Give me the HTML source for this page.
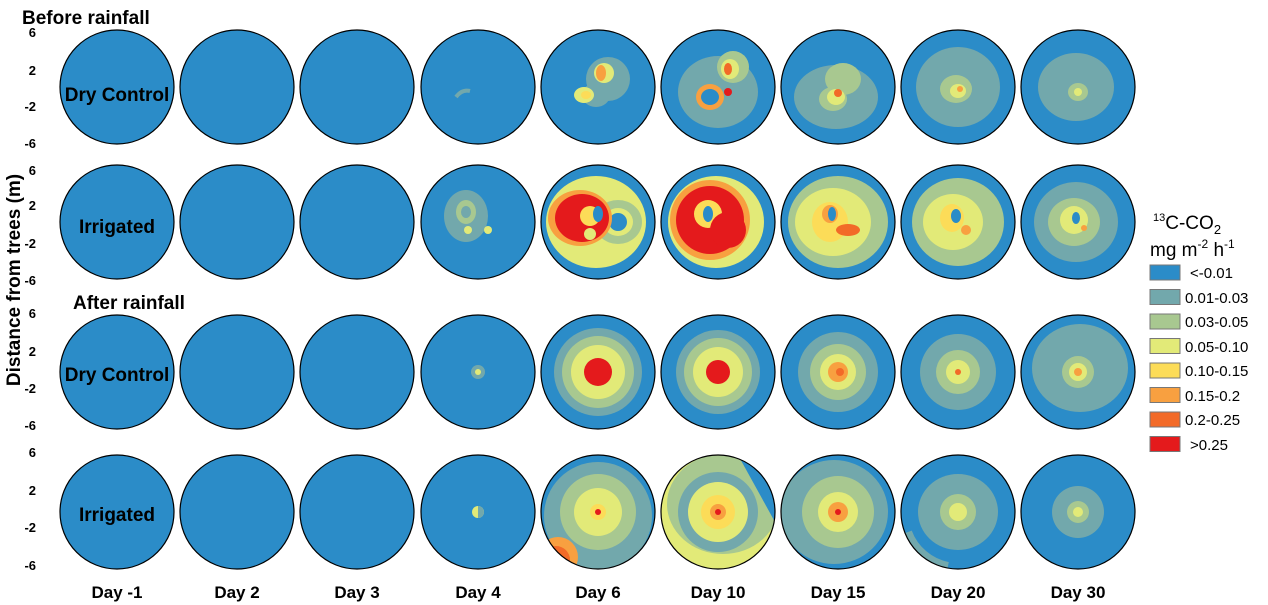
<!DOCTYPE html>
<html><head><meta charset="utf-8"><style>
body{margin:0;background:#fff;width:1268px;height:605px;overflow:hidden}
svg{display:block;font-family:"Liberation Sans",Arial,sans-serif}
</style></head><body>
<svg width="1268" height="605" viewBox="0 0 1268 605" xmlns="http://www.w3.org/2000/svg">
<defs>
<clipPath id="c"><circle cx="0" cy="0" r="57"/></clipPath>
</defs>
<rect width="1268" height="605" fill="#fff"/>
<g font-weight="bold" fill="#000">
<text x="22" y="24" font-size="19">Before rainfall</text>
<text x="73" y="309" font-size="19">After rainfall</text>
<text x="20" y="280" font-size="19" transform="rotate(-90 20 280)" text-anchor="middle">Distance from trees (m)</text>
</g>
<g font-size="13" font-weight="bold" text-anchor="end">
<text x="36" y="37">6</text><text x="36" y="75">2</text><text x="36" y="111">-2</text><text x="36" y="148">-6</text>
<text x="36" y="175">6</text><text x="36" y="210">2</text><text x="36" y="248">-2</text><text x="36" y="285">-6</text>
<text x="36" y="318">6</text><text x="36" y="356">2</text><text x="36" y="393">-2</text><text x="36" y="430">-6</text>
<text x="36" y="457">6</text><text x="36" y="495">2</text><text x="36" y="532">-2</text><text x="36" y="570">-6</text>
</g>
<g id="circles">
<!-- Row 1 -->
<g transform="translate(117,87)"><circle r="57" fill="#2b8cc8" stroke="#000" stroke-width="1.2"/></g>
<g transform="translate(237,87)"><circle r="57" fill="#2b8cc8" stroke="#000" stroke-width="1.2"/></g>
<g transform="translate(357,87)"><circle r="57" fill="#2b8cc8" stroke="#000" stroke-width="1.2"/></g>
<g transform="translate(478,87)"><circle r="57" fill="#2b8cc8"/><path d="M-22 10 q6-8 14-6" stroke="#72a8ac" stroke-width="4" fill="none"/><circle r="57" fill="none" stroke="#000" stroke-width="1.2"/></g>
<g transform="translate(598,87)"><g clip-path="url(#c)"><circle r="57" fill="#2b8cc8"/>
<ellipse cx="10" cy="-8" rx="22" ry="22" fill="#72a8ac"/><ellipse cx="-2" cy="8" rx="14" ry="12" fill="#72a8ac"/>
<ellipse cx="6" cy="-14" rx="10" ry="10" fill="#e2ea78"/><ellipse cx="3" cy="-14" rx="5" ry="8" fill="#f8a040"/>
<ellipse cx="-14" cy="8" rx="10" ry="8" fill="#e2ea78"/><ellipse cx="-12" cy="8" rx="5" ry="4" fill="#fcdc58"/></g>
<circle r="57" fill="none" stroke="#000" stroke-width="1.2"/></g>
<g transform="translate(718,87)"><g clip-path="url(#c)"><circle r="57" fill="#2b8cc8"/>
<ellipse cx="0" cy="5" rx="40" ry="36" fill="#72a8ac"/><ellipse cx="15" cy="-20" rx="16" ry="16" fill="#a8c890"/>
<ellipse cx="-8" cy="10" rx="14" ry="13" fill="#f8a040"/><ellipse cx="-8" cy="10" rx="9" ry="8" fill="#2b8cc8"/>
<ellipse cx="12" cy="-18" rx="9" ry="10" fill="#e2ea78"/><ellipse cx="10" cy="-18" rx="4" ry="6" fill="#f26a28"/>
<circle cx="10" cy="5" r="4" fill="#e41a1c"/></g>
<circle r="57" fill="none" stroke="#000" stroke-width="1.2"/></g>
<g transform="translate(838,87)"><g clip-path="url(#c)"><circle r="57" fill="#2b8cc8"/>
<ellipse cx="-2" cy="10" rx="42" ry="32" fill="#72a8ac"/><ellipse cx="5" cy="-8" rx="18" ry="16" fill="#a8c890"/>
<ellipse cx="-5" cy="12" rx="14" ry="12" fill="#a8c890"/><ellipse cx="-2" cy="10" rx="9" ry="8" fill="#e2ea78"/><circle cx="0" cy="6" r="4" fill="#f26a28"/></g>
<circle r="57" fill="none" stroke="#000" stroke-width="1.2"/></g>
<g transform="translate(958,87)"><g clip-path="url(#c)"><circle r="57" fill="#2b8cc8"/>
<ellipse cx="0" cy="0" rx="42" ry="40" fill="#72a8ac"/><ellipse cx="-2" cy="2" rx="16" ry="14" fill="#a8c890"/><ellipse cx="0" cy="4" rx="8" ry="7" fill="#e2ea78"/><circle cx="2" cy="2" r="3" fill="#f8a040"/></g>
<circle r="57" fill="none" stroke="#000" stroke-width="1.2"/></g>
<g transform="translate(1078,87)"><g clip-path="url(#c)"><circle r="57" fill="#2b8cc8"/>
<ellipse cx="-2" cy="0" rx="38" ry="34" fill="#72a8ac"/><ellipse cx="0" cy="5" rx="10" ry="9" fill="#a8c890"/><circle cx="0" cy="5" r="4" fill="#e2ea78"/></g>
<circle r="57" fill="none" stroke="#000" stroke-width="1.2"/></g>
<!-- Row 2 -->
<g transform="translate(117,222)"><circle r="57" fill="#2b8cc8" stroke="#000" stroke-width="1.2"/></g>
<g transform="translate(237,222)"><circle r="57" fill="#2b8cc8" stroke="#000" stroke-width="1.2"/></g>
<g transform="translate(357,222)"><circle r="57" fill="#2b8cc8" stroke="#000" stroke-width="1.2"/></g>
<g transform="translate(478,222)"><g clip-path="url(#c)"><circle r="57" fill="#2b8cc8"/>
<ellipse cx="-12" cy="-6" rx="22" ry="26" fill="#72a8ac"/><ellipse cx="-12" cy="-10" rx="10" ry="12" fill="#a8c890"/><ellipse cx="-12" cy="-10" rx="5" ry="6" fill="#72a8ac"/>
<circle cx="-10" cy="8" r="4" fill="#e2ea78"/><circle cx="10" cy="8" r="4" fill="#e2ea78"/></g>
<circle r="57" fill="none" stroke="#000" stroke-width="1.2"/></g>
<g transform="translate(598,222)"><g clip-path="url(#c)"><circle r="57" fill="#2b8cc8"/>
<ellipse cx="-2" cy="0" rx="50" ry="46" fill="#e2ea78"/><ellipse cx="20" cy="0" rx="24" ry="22" fill="#a8c890"/><ellipse cx="20" cy="0" rx="15" ry="14" fill="#e2ea78"/><ellipse cx="20" cy="0" rx="9" ry="9" fill="#2b8cc8"/>
<ellipse cx="-18" cy="-4" rx="32" ry="28" fill="#f8a040"/><ellipse cx="-16" cy="-4" rx="27" ry="24" fill="#e41a1c"/>
<ellipse cx="-8" cy="-6" rx="10" ry="10" fill="#fcdc58"/><ellipse cx="0" cy="-8" rx="5" ry="8" fill="#2b8cc8"/><ellipse cx="-8" cy="12" rx="6" ry="6" fill="#e2ea78"/></g>
<circle r="57" fill="none" stroke="#000" stroke-width="1.2"/></g>
<g transform="translate(718,222)"><g clip-path="url(#c)"><circle r="57" fill="#2b8cc8"/>
<ellipse cx="-2" cy="0" rx="48" ry="46" fill="#e2ea78"/><ellipse cx="-8" cy="-2" rx="40" ry="40" fill="#f8a040"/><ellipse cx="-8" cy="-2" rx="34" ry="34" fill="#e41a1c"/>
<ellipse cx="-10" cy="-8" rx="14" ry="14" fill="#fcdc58"/><ellipse cx="-10" cy="-8" rx="5" ry="8" fill="#2b8cc8"/><ellipse cx="10" cy="8" rx="18" ry="18" fill="#e41a1c"/></g>
<circle r="57" fill="none" stroke="#000" stroke-width="1.2"/></g>
<g transform="translate(838,222)"><g clip-path="url(#c)"><circle r="57" fill="#2b8cc8"/>
<ellipse cx="0" cy="0" rx="50" ry="46" fill="#a8c890"/><ellipse cx="-5" cy="0" rx="38" ry="34" fill="#e2ea78"/><ellipse cx="-8" cy="0" rx="18" ry="20" fill="#fcdc58"/>
<ellipse cx="-8" cy="-8" rx="8" ry="9" fill="#f8a040"/><ellipse cx="-6" cy="-8" rx="4" ry="7" fill="#2b8cc8"/><ellipse cx="10" cy="8" rx="12" ry="6" fill="#f26a28"/></g>
<circle r="57" fill="none" stroke="#000" stroke-width="1.2"/></g>
<g transform="translate(958,222)"><g clip-path="url(#c)"><circle r="57" fill="#2b8cc8"/>
<ellipse cx="0" cy="0" rx="46" ry="44" fill="#a8c890"/><ellipse cx="-5" cy="0" rx="30" ry="28" fill="#e2ea78"/><ellipse cx="-6" cy="-4" rx="12" ry="14" fill="#fcdc58"/><ellipse cx="-2" cy="-6" rx="5" ry="7" fill="#2b8cc8"/><circle cx="8" cy="8" r="5" fill="#f8a040"/></g>
<circle r="57" fill="none" stroke="#000" stroke-width="1.2"/></g>
<g transform="translate(1078,222)"><g clip-path="url(#c)"><circle r="57" fill="#2b8cc8"/>
<ellipse cx="-2" cy="0" rx="42" ry="40" fill="#72a8ac"/><ellipse cx="-4" cy="0" rx="26" ry="24" fill="#a8c890"/><ellipse cx="-4" cy="-2" rx="14" ry="14" fill="#e2ea78"/><ellipse cx="-2" cy="-4" rx="4" ry="6" fill="#2b8cc8"/><circle cx="6" cy="6" r="3" fill="#f8a040"/></g>
<circle r="57" fill="none" stroke="#000" stroke-width="1.2"/></g>
<!-- Row 3 -->
<g transform="translate(117,372)"><circle r="57" fill="#2b8cc8" stroke="#000" stroke-width="1.2"/></g>
<g transform="translate(237,372)"><circle r="57" fill="#2b8cc8" stroke="#000" stroke-width="1.2"/></g>
<g transform="translate(357,372)"><circle r="57" fill="#2b8cc8" stroke="#000" stroke-width="1.2"/></g>
<g transform="translate(478,372)"><circle r="57" fill="#2b8cc8"/><circle r="7" fill="#72a8ac"/><circle r="3" fill="#e2ea78"/><circle r="57" fill="none" stroke="#000" stroke-width="1.2"/></g>
<g transform="translate(598,372)"><circle r="57" fill="#2b8cc8"/><circle r="44" fill="#72a8ac"/><circle r="36" fill="#a8c890"/><circle r="27" fill="#e2ea78"/><circle r="14" fill="#e41a1c"/><circle r="57" fill="none" stroke="#000" stroke-width="1.2"/></g>
<g transform="translate(718,372)"><circle r="57" fill="#2b8cc8"/><circle r="42" fill="#72a8ac"/><circle r="34" fill="#a8c890"/><circle r="25" fill="#e2ea78"/><circle r="12" fill="#e41a1c"/><circle r="57" fill="none" stroke="#000" stroke-width="1.2"/></g>
<g transform="translate(838,372)"><circle r="57" fill="#2b8cc8"/><circle r="40" fill="#72a8ac"/><circle r="28" fill="#a8c890"/><circle r="18" fill="#e2ea78"/><circle r="10" fill="#f8a040"/><circle cx="2" r="4" fill="#f26a28"/><circle r="57" fill="none" stroke="#000" stroke-width="1.2"/></g>
<g transform="translate(958,372)"><circle r="57" fill="#2b8cc8"/><circle r="38" fill="#72a8ac"/><circle r="22" fill="#a8c890"/><circle r="12" fill="#e2ea78"/><circle r="3" fill="#f26a28"/><circle r="57" fill="none" stroke="#000" stroke-width="1.2"/></g>
<g transform="translate(1078,372)"><circle r="57" fill="#2b8cc8"/><ellipse cx="2" cy="-4" rx="48" ry="44" fill="#72a8ac"/><circle r="16" fill="#a8c890"/><circle r="9" fill="#e2ea78"/><circle r="4" fill="#f8a040"/><circle r="57" fill="none" stroke="#000" stroke-width="1.2"/></g>
<!-- Row 4 -->
<g transform="translate(117,512)"><circle r="57" fill="#2b8cc8" stroke="#000" stroke-width="1.2"/></g>
<g transform="translate(237,512)"><circle r="57" fill="#2b8cc8" stroke="#000" stroke-width="1.2"/></g>
<g transform="translate(357,512)"><circle r="57" fill="#2b8cc8" stroke="#000" stroke-width="1.2"/></g>
<g transform="translate(478,512)"><circle r="57" fill="#2b8cc8"/><circle r="6" fill="#e2ea78"/><path d="M0 -6 A6 6 0 0 1 0 6Z" fill="#72a8ac"/><circle r="57" fill="none" stroke="#000" stroke-width="1.2"/></g>
<g transform="translate(598,512)"><g clip-path="url(#c)"><circle r="57" fill="#2b8cc8"/><ellipse cx="0" cy="4" rx="54" ry="54" fill="#72a8ac"/><circle r="38" fill="#a8c890"/><circle r="24" fill="#e2ea78"/><circle r="8" fill="#fcdc58"/><circle r="3" fill="#e41a1c"/>
<circle cx="-40" cy="45" r="20" fill="#f8a040"/><circle cx="-42" cy="48" r="14" fill="#f26a28"/></g><circle r="57" fill="none" stroke="#000" stroke-width="1.2"/></g>
<g transform="translate(718,512)"><g clip-path="url(#c)"><circle r="57" fill="#e2ea78"/><ellipse cx="5" cy="-8" rx="56" ry="50" fill="#a8c890"/><circle r="40" fill="#72a8ac"/><circle r="30" fill="#e2ea78"/><circle r="17" fill="#fcdc58"/><circle r="8" fill="#f8a040"/><circle r="3" fill="#e41a1c"/><path d="M20 -57 L57 -57 57 10 Z" fill="#2b8cc8"/></g><circle r="57" fill="none" stroke="#000" stroke-width="1.2"/></g>
<g transform="translate(838,512)"><g clip-path="url(#c)"><circle r="57" fill="#2b8cc8"/><ellipse cx="-4" cy="0" rx="54" ry="52" fill="#72a8ac"/><circle r="36" fill="#a8c890"/><circle r="20" fill="#e2ea78"/><circle r="10" fill="#f8a040"/><circle r="3" fill="#e41a1c"/></g><circle r="57" fill="none" stroke="#000" stroke-width="1.2"/></g>
<g transform="translate(958,512)"><g clip-path="url(#c)"><circle r="57" fill="#2b8cc8"/><ellipse cx="0" cy="0" rx="40" ry="38" fill="#72a8ac"/><circle r="18" fill="#a8c890"/><circle r="9" fill="#e2ea78"/><path d="M-50 20 A54 54 0 0 0 -10 54" stroke="#72a8ac" stroke-width="8" fill="none"/></g><circle r="57" fill="none" stroke="#000" stroke-width="1.2"/></g>
<g transform="translate(1078,512)"><circle r="57" fill="#2b8cc8"/><circle r="26" fill="#72a8ac"/><circle r="11" fill="#a8c890"/><circle r="5" fill="#e2ea78"/><circle r="57" fill="none" stroke="#000" stroke-width="1.2"/></g>
</g>
<g font-weight="bold" font-size="19" text-anchor="middle">
<text x="117" y="101">Dry Control</text>
<text x="117" y="233">Irrigated</text>
<text x="117" y="381">Dry Control</text>
<text x="117" y="521">Irrigated</text>
</g>
<g font-weight="bold" font-size="17" text-anchor="middle">
<text x="117" y="598">Day -1</text><text x="237" y="598">Day 2</text><text x="357" y="598">Day 3</text><text x="478" y="598">Day 4</text><text x="598" y="598">Day 6</text><text x="718" y="598">Day 10</text><text x="838" y="598">Day 15</text><text x="958" y="598">Day 20</text><text x="1078" y="598">Day 30</text>
</g>
<g font-size="19">
<text x="1153" y="229"><tspan font-size="11" dy="-8">13</tspan><tspan dy="8">C-CO</tspan><tspan font-size="13" dy="5">2</tspan></text>
<text x="1150" y="256">mg m<tspan font-size="12" dy="-8">-2</tspan><tspan dy="8"> h</tspan><tspan font-size="12" dy="-8">-1</tspan></text>
</g>
<g stroke="#777" stroke-width="1">
<rect x="1150" y="265" width="30" height="15" fill="#2b8cc8"/>
<rect x="1150" y="289.5" width="30" height="15" fill="#72a8ac"/>
<rect x="1150" y="314" width="30" height="15" fill="#a8c890"/>
<rect x="1150" y="338.5" width="30" height="15" fill="#e2ea78"/>
<rect x="1150" y="363" width="30" height="15" fill="#fcdc58"/>
<rect x="1150" y="387.5" width="30" height="15" fill="#f8a040"/>
<rect x="1150" y="412" width="30" height="15" fill="#f26a28"/>
<rect x="1150" y="436.5" width="30" height="15" fill="#e41a1c"/>
</g>
<g font-size="15">
<text x="1190" y="278">&lt;-0.01</text>
<text x="1185" y="303">0.01-0.03</text>
<text x="1185" y="327">0.03-0.05</text>
<text x="1185" y="352">0.05-0.10</text>
<text x="1185" y="376">0.10-0.15</text>
<text x="1185" y="401">0.15-0.2</text>
<text x="1185" y="425">0.2-0.25</text>
<text x="1190" y="450">&gt;0.25</text>
</g>
</svg>
</body></html>
